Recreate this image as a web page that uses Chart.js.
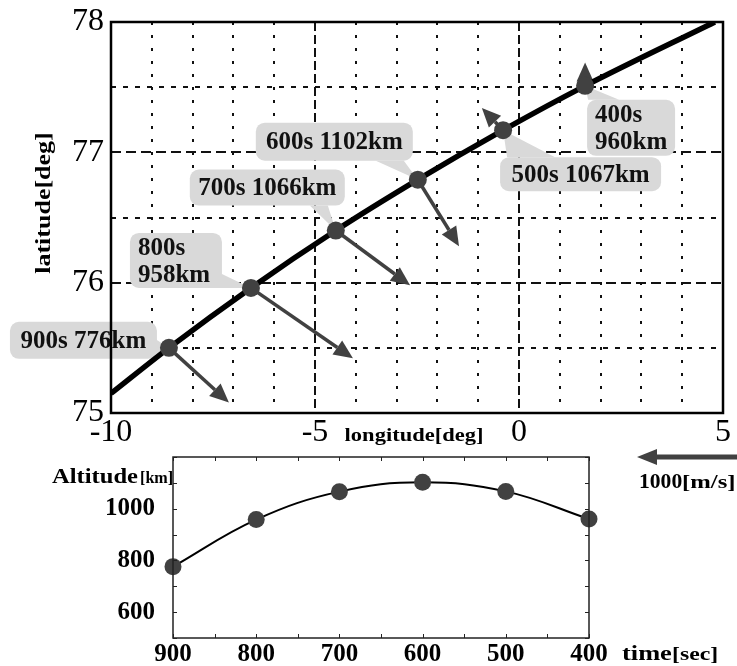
<!DOCTYPE html>
<html>
<head>
<meta charset="utf-8">
<script src="https://cdn.jsdelivr.net/npm/chart.js@4.4.0/dist/chart.umd.min.js"></script>
<style>
  html, body { margin: 0; padding: 0; background: #fff; }
  #wrap { position: relative; width: 737px; height: 666px; overflow: hidden; }
  #track { position: absolute; left: 0; top: 0; }
  #alt { position: absolute; left: 0; top: 448px; }
</style>
</head>
<body>
<div id="wrap">
  <canvas id="track" width="737" height="448"></canvas>
  <canvas id="alt" width="737" height="218"></canvas>
</div>
<script>
// time marks along the pass
var times = [900, 800, 700, 600, 500, 400]
var altitudes = [776, 958, 1066, 1102, 1067, 960]
var pointLon = [-8.58, -6.57, -4.49, -2.48, -0.39, 1.62]
var pointLat = [75.50, 75.96, 76.40, 76.79, 77.17, 77.51]
// velocity arrow tips
var tipLon = [-7.11, -4.07, -2.67, -1.47, -0.91, 1.62]
var tipLat = [75.08, 75.42, 75.98, 76.28, 77.34, 77.69]
// ground track
var trackLon = [-10, -8.58, -6.57, -4.49, -2.48, -0.39, 1.62, 4.8]
var trackLat = [75.15, 75.50, 75.96, 76.40, 76.79, 77.17, 77.51, 78.0]
// tick labels
var lonTicks = [-10, -5, 0, 5]
var latTicks = [75, 76, 77, 78]
var timeTicks = [900, 800, 700, 600, 500, 400]
var altTicks = [600, 800, 1000]

var SERIF = "'Liberation Serif', 'Times New Roman', serif"
var MARK = '#414141'

// callout boxes, offsets in px from the marker
var callouts = [
    { box: [-159, -26, 147, 37], tail: [[-14, -9], [-14, 7]], split: false },
    { box: [-121, -55, 92, 55], tail: [[-52, 0], [-29, -14]], split: true },
    { box: [-146, -61, 155, 36], tail: [[-26, -25], [-8, -25]], split: false },
    { box: [-162, -57, 157, 38], tail: [[-42, -19], [-14, -19]], split: false },
    { box: [-3, 27, 161, 34], tail: [[4, 27], [52, 27]], split: false },
    { box: [2, 14, 88, 56], tail: [[3, 14], [34, 14]], split: true }
]

function stretchText(ctx, text, x, y, sx) {
    ctx.save()
    ctx.translate(x, y)
    ctx.scale(sx, 1)
    ctx.fillText(text, 0, 0)
    ctx.restore()
}

function drawArrow(ctx, x0, y0, x1, y1, width, head, half) {
    var a = Math.atan2(y1 - y0, x1 - x0)
    var bx = x1 - head * Math.cos(a)
    var by = y1 - head * Math.sin(a)
    ctx.beginPath()
    ctx.moveTo(x0, y0)
    ctx.lineTo(bx, by)
    ctx.lineWidth = width
    ctx.stroke()
    ctx.beginPath()
    ctx.moveTo(x1, y1)
    ctx.lineTo(bx - half * Math.sin(a), by + half * Math.cos(a))
    ctx.lineTo(bx + half * Math.sin(a), by - half * Math.cos(a))
    ctx.closePath()
    ctx.fill()
}

function roundRect(ctx, x, y, w, h, r) {
    ctx.beginPath()
    ctx.moveTo(x + r, y)
    ctx.arcTo(x + w, y, x + w, y + h, r)
    ctx.arcTo(x + w, y + h, x, y + h, r)
    ctx.arcTo(x, y + h, x, y, r)
    ctx.arcTo(x, y, x + w, y, r)
    ctx.closePath()
}

function noPad(s) {
    s.paddingTop = 0
    s.paddingBottom = 0
}

var trackDecor = {
    id: 'trackDecor',
    beforeDatasetsDraw: function (chart) {
        var ctx = chart.ctx
        var xs = chart.scales.x, ys = chart.scales.y
        ctx.save()
        // callouts
        for (var i = 0; i < times.length; i++) {
            var px = xs.getPixelForValue(pointLon[i])
            var py = ys.getPixelForValue(pointLat[i])
            var c = callouts[i]
            ctx.fillStyle = '#d9d9d9'
            roundRect(ctx, px + c.box[0], py + c.box[1], c.box[2], c.box[3], 9)
            ctx.fill()
            ctx.beginPath()
            ctx.moveTo(px + c.tail[0][0], py + c.tail[0][1])
            ctx.lineTo(px + c.tail[1][0], py + c.tail[1][1])
            ctx.lineTo(px, py)
            ctx.closePath()
            ctx.fill()
            ctx.fillStyle = '#111'
            ctx.font = 'bold 25px ' + SERIF
            ctx.textBaseline = 'middle'
            if (c.split) {
                ctx.textAlign = 'left'
                ctx.fillText(times[i] + 's', px + c.box[0] + 8, py + c.box[1] + c.box[3] * 0.28)
                ctx.fillText(altitudes[i] + 'km', px + c.box[0] + 8, py + c.box[1] + c.box[3] * 0.77)
            } else {
                ctx.textAlign = 'center'
                ctx.fillText(times[i] + 's ' + altitudes[i] + 'km', px + c.box[0] + c.box[2] / 2, py + c.box[1] + c.box[3] / 2 + 1)
            }
        }
        // velocity arrows
        ctx.strokeStyle = MARK
        ctx.fillStyle = MARK
        for (var i = 0; i < times.length; i++) {
            drawArrow(ctx,
                xs.getPixelForValue(pointLon[i]), ys.getPixelForValue(pointLat[i]),
                xs.getPixelForValue(tipLon[i]), ys.getPixelForValue(tipLat[i]),
                3.5, 19, 8.5)
        }
        ctx.restore()
    },
    afterDatasetsDraw: function (chart) {
        var ctx = chart.ctx
        var a = chart.chartArea
        ctx.save()
        ctx.strokeStyle = '#000'
        ctx.lineWidth = 2.5
        ctx.strokeRect(a.left, a.top, a.right - a.left, a.bottom - a.top)
        ctx.fillStyle = '#000'
        ctx.font = 'bold 20px ' + SERIF
        ctx.textAlign = 'center'
        ctx.textBaseline = 'middle'
        ctx.save()
        ctx.translate(45, 203)
        ctx.rotate(-Math.PI / 2)
        stretchText(ctx, 'latitude[deg]', 0, 0, 1.3)
        ctx.restore()
        ctx.font = 'bold 18px ' + SERIF
        stretchText(ctx, 'longitude[deg]', 414, 436, 1.25)
        ctx.restore()
    }
}

var trackChart = new Chart(document.getElementById('track'), {
    type: 'scatter',
    data: {
        datasets: [
            {
                label: 'time marks',
                data: pointLon.map(function (v, i) { return { x: v, y: pointLat[i] } }),
                pointRadius: 9,
                pointBackgroundColor: MARK,
                pointBorderWidth: 0,
                showLine: false,
                clip: false
            },
            {
                label: 'track',
                data: trackLon.map(function (v, i) { return { x: v, y: trackLat[i] } }),
                showLine: true,
                borderColor: '#000',
                borderWidth: 5.5,
                pointRadius: 0,
                tension: 0.4,
                cubicInterpolationMode: 'monotone',
                clip: 0
            }
        ]
    },
    options: {
        responsive: false,
        animation: false,
        events: [],
        layout: { padding: { left: 0, top: 22, right: 14, bottom: 0 } },
        plugins: { legend: { display: false }, tooltip: { enabled: false } },
        scales: {
            x: {
                type: 'linear', min: -10, max: 5,
                afterFit: function (s) { s.height = 35 },
                ticks: {
                    stepSize: 1, autoSkip: false, maxRotation: 0, minRotation: 0, padding: 0,
                    color: '#000', font: { family: SERIF, size: 32 },
                    callback: function (v) { return lonTicks.indexOf(v) >= 0 ? String(v) : '' }
                },
                grid: { color: '#111', lineWidth: 2, drawTicks: false },
                border: {
                    display: false,
                    dash: function (c) { return !c.tick ? [] : (c.tick.value % 5 === 0 ? [9, 4] : [3, 10]) }
                }
            },
            y: {
                type: 'linear', min: 75, max: 78,
                afterFit: function (s) { s.width = 111; noPad(s) },
                ticks: {
                    stepSize: 0.5, autoSkip: false, padding: 7,
                    color: '#000', font: { family: SERIF, size: 32 },
                    callback: function (v) { return latTicks.indexOf(v) >= 0 ? String(v) : '' }
                },
                grid: { color: '#111', lineWidth: 2, drawTicks: false },
                border: {
                    display: false,
                    dash: function (c) { return !c.tick ? [] : (c.tick.value % 1 === 0 ? [10, 5] : [5, 7]) }
                }
            }
        }
    },
    plugins: [trackDecor]
})

var altDecor = {
    id: 'altDecor',
    afterDatasetsDraw: function (chart) {
        var ctx = chart.ctx
        var a = chart.chartArea
        var xs = chart.scales.x, ys = chart.scales.y
        ctx.save()
        ctx.strokeStyle = '#222'
        ctx.lineWidth = 1.5
        ctx.strokeRect(a.left, a.top, a.right - a.left, a.bottom - a.top)
        ctx.lineWidth = 1
        ctx.beginPath()
        xs.ticks.forEach(function (t) {
            var p = Math.round(xs.getPixelForValue(t.value)) + 0.5
            ctx.moveTo(p, a.top); ctx.lineTo(p, a.top + 4)
            ctx.moveTo(p, a.bottom); ctx.lineTo(p, a.bottom - 4)
        })
        ys.ticks.forEach(function (t) {
            var p = Math.round(ys.getPixelForValue(t.value)) + 0.5
            ctx.moveTo(a.left, p); ctx.lineTo(a.left + 4, p)
            ctx.moveTo(a.right, p); ctx.lineTo(a.right - 4, p)
        })
        ctx.stroke()

        ctx.fillStyle = '#000'
        ctx.textAlign = 'left'
        ctx.textBaseline = 'alphabetic'
        ctx.font = 'bold 21px ' + SERIF
        stretchText(ctx, 'Altitude', 52, 35, 1.17)
        ctx.font = 'bold 17px ' + SERIF
        stretchText(ctx, '[km]', 140, 35, 0.95)
        ctx.font = 'bold 22px ' + SERIF
        stretchText(ctx, 'time', 622, 212, 1.2)
        ctx.font = 'bold 19px ' + SERIF
        stretchText(ctx, '[sec]', 672, 212, 1.25)
        ctx.font = 'bold 20px ' + SERIF
        stretchText(ctx, '1000', 639, 40, 1.08)
        ctx.font = 'bold 19px ' + SERIF
        stretchText(ctx, '[m/s]', 682, 40, 1.3)

        // 1000 m/s scale arrow
        ctx.strokeStyle = MARK
        ctx.fillStyle = MARK
        drawArrow(ctx, 740, 9, 637, 9, 5, 20, 8)
        ctx.restore()
    }
}

var altChart = new Chart(document.getElementById('alt'), {
    type: 'line',
    data: {
        datasets: [
            {
                label: 'Altitude',
                data: times.map(function (t, i) { return { x: t, y: altitudes[i] } }),
                borderColor: '#000',
                borderWidth: 2,
                tension: 0.4,
                pointRadius: 8.5,
                pointBackgroundColor: MARK,
                pointBorderWidth: 0,
                clip: false
            }
        ]
    },
    options: {
        responsive: false,
        animation: false,
        events: [],
        layout: { padding: { left: 0, top: 9, right: 148, bottom: 0 } },
        plugins: { legend: { display: false }, tooltip: { enabled: false } },
        scales: {
            x: {
                type: 'linear', reverse: true, min: 400, max: 900,
                afterFit: function (s) { s.height = 28 },
                ticks: {
                    stepSize: 50, autoSkip: false, maxRotation: 0, minRotation: 0, padding: -6,
                    color: '#000', font: { family: SERIF, size: 25, weight: 'bold' },
                    callback: function (v) { return timeTicks.indexOf(v) >= 0 ? String(v) : '' }
                },
                grid: { display: false },
                border: { display: false }
            },
            y: {
                type: 'linear', min: 500, max: 1200,
                afterFit: function (s) { s.width = 173; noPad(s) },
                ticks: {
                    stepSize: 100, autoSkip: false, padding: 10,
                    color: '#000', font: { family: SERIF, size: 25, weight: 'bold' },
                    callback: function (v) { return altTicks.indexOf(v) >= 0 ? String(v) : '' }
                },
                grid: { display: false },
                border: { display: false }
            }
        }
    },
    plugins: [altDecor]
})
</script>
</body>
</html>
